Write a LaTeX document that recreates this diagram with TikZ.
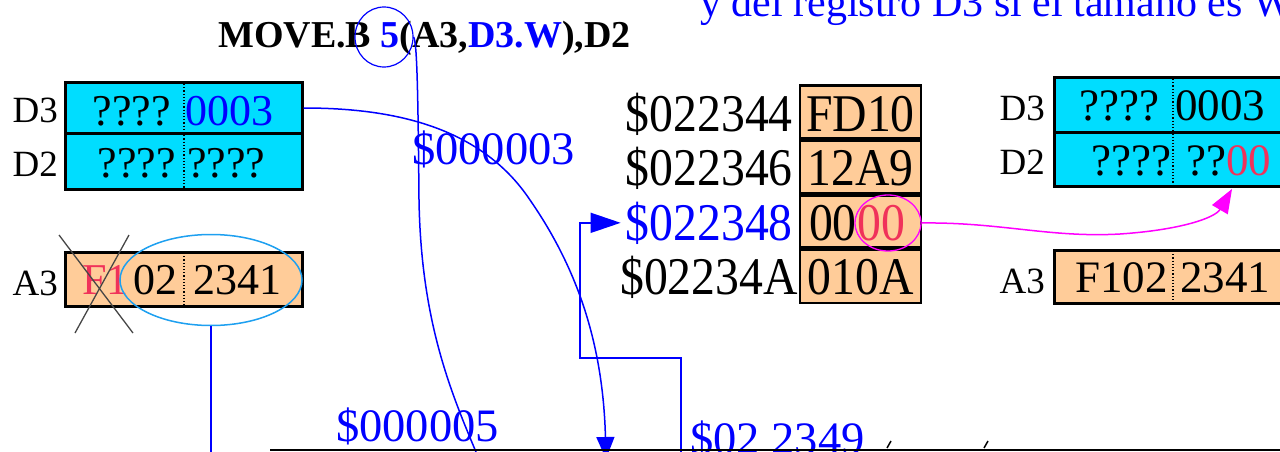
\documentclass[tikz,border=0pt]{standalone}
\usepackage{fontspec}
\setmainfont{Liberation Serif}
\newfontfamily\tallserif[FakeStretch=0.9]{Liberation Serif}
\usetikzlibrary{arrows.meta,shapes.geometric}
\definecolor{regcyan}{RGB}{0,221,255}
\definecolor{peach}{RGB}{255,204,153}
\definecolor{hot}{RGB}{240,50,90}
\definecolor{magen}{RGB}{255,0,255}
\definecolor{skyb}{RGB}{30,160,240}
\definecolor{bl}{RGB}{0,0,255}
\definecolor{xgray}{RGB}{70,70,70}
\begin{document}
\begin{tikzpicture}[x=1pt,y=-1pt,
  big/.style={inner sep=0pt, font=\fontsize{44}{44}\selectfont},
  bigr/.style={inner sep=0pt, font=\fontsize{45}{45}\selectfont},
  lbl/.style={inner sep=0pt, text=bl, anchor=base west, font=\fontsize{46.5}{46.5}\selectfont},
  mem/.style={inner sep=0pt, font=\tallserif\fontsize{53}{53}\selectfont},
  lab/.style={inner sep=0pt, anchor=base east, font=\fontsize{37}{37}\selectfont},
  regbox/.style={draw=black, line width=3pt, inner sep=0pt},
  cell/.style={draw=black, line width=1.6pt, fill=peach, inner sep=0pt, minimum width=121pt, minimum height=54pt},
  divline/.style={black, dotted, line width=1.2pt},
  conn/.style={bl, line width=1.5pt},
  mconn/.style={magen, line width=1.5pt},
]
\useasboundingbox (0,0) rectangle (1280,452);

% top (cut) text
\node[inner sep=0pt, anchor=base west, text=bl, font=\fontsize{42}{42}\selectfont] (toptxt) at (700,17) {y del registro D3 si el tamaño es W};

% title
\node[inner sep=0pt, anchor=base west, font=\bfseries\fontsize{38}{38}\selectfont] (title) at (218,48)
  {MOVE.B \textcolor{bl}{5}(A3,\textcolor{bl}{D3.W}),D2};
\node[draw=bl, line width=1.2pt, ellipse, minimum width=58pt, minimum height=60pt, inner sep=0pt] (c5) at (384,37) {};

% left registers
\node[regbox, fill=regcyan, minimum width=237pt, minimum height=50pt] (d3L) at (183.5,108) {};
\node[regbox, fill=regcyan, minimum width=237pt, minimum height=56pt] (d2L) at (183.5,161) {};
\draw[divline] (184,84) -- (184,188);
\node[lab] (ld3L) at (58,122) {D3};
\node[lab] (ld2L) at (58,176) {D2};
\node[big, anchor=base east] (q1) at (171,125) {????};
\node[big, anchor=base west, text=bl] (v1) at (185,125) {0003};
\node[big, anchor=base east] (q2) at (176,177) {????};
\node[big, anchor=base west] (q3) at (187,177) {????};

\node[regbox, fill=peach, minimum width=237pt, minimum height=54pt] (a3L) at (183.5,279) {};
\draw[divline] (184,253) -- (184,305);
\node[lab] (la3L) at (58,295) {A3};
\node[big, anchor=base west, text=hot] (f1) at (82,294) {F1};
\node[big, anchor=base east] (v02) at (178,294) {02};
\node[big, anchor=base west] (v2341) at (193,294) {2341};
\draw[xgray, line width=1.3pt] (59,235) -- (133,333);
\draw[xgray, line width=1.3pt] (129,235) -- (75,333);
\node[draw=skyb, line width=1.5pt, ellipse, minimum width=182pt, minimum height=91pt, inner sep=0pt] (ell) at (211,280) {};

% memory
\node[cell] (m1) at (860.5,113) {};
\node[cell] (m2) at (860.5,167) {};
\node[cell] (m3) at (860.5,222) {};
\node[cell] (m4) at (860.5,276) {};
\draw[black, line width=3pt] (m1.north west) -- (m1.north east);
\draw[black, line width=5pt] (m2.north west) -- (m2.north east);
\draw[black, line width=5pt] (m3.north west) -- (m3.north east);
\draw[black, line width=5pt] (m4.north west) -- (m4.north east);
\node[mem, anchor=base] (t1) at (860.5,131) {FD10};
\node[mem, anchor=base] (t2) at (860.5,185) {12A9};
\node[mem, anchor=base east] (t3a) at (857,240) {00};
\node[mem, anchor=base west, text=hot] (t3b) at (857,240) {00};
\node[mem, anchor=base] (t4) at (860.5,294) {010A};
\node[mem, anchor=base east] (a1) at (793,131) {\$022344};
\node[mem, anchor=base east] (a2) at (793,185) {\$022346};
\node[mem, anchor=base east, text=bl] (a3) at (793,240) {\$022348};
\node[mem, anchor=base east] (a4) at (798,294) {\$02234A};
\node[draw=magen, line width=1.3pt, ellipse, minimum width=66pt, minimum height=56pt, inner sep=0pt] (mc) at (888,223) {};

% right registers
\node[regbox, fill=regcyan, minimum width=238pt, minimum height=54pt] (d3R) at (1173,105) {};
\node[regbox, fill=regcyan, minimum width=238pt, minimum height=54pt] (d2R) at (1173,159) {};
\draw[divline] (1173,79) -- (1173,185);
\node[lab] (ld3R) at (1045,120) {D3};
\node[lab] (ld2R) at (1045,174) {D2};
\node[bigr, anchor=base east] (q4) at (1160,121) {????};
\node[bigr, anchor=base west] (v3) at (1175,121) {0003};
\node[bigr, anchor=base east] (q5) at (1172,175) {????};
\node[bigr, anchor=base west] (q6) at (1186,175) {??\textcolor{hot}{00}};
\node[regbox, fill=peach, minimum width=238pt, minimum height=53pt] (a3R) at (1173,276.5) {};
\draw[divline] (1173,251) -- (1173,302);
\node[lab] (la3R) at (1045,293) {A3};
\node[bigr, anchor=base east] (v4) at (1168,292) {F102};
\node[bigr, anchor=base west] (v5) at (1180,292) {2341};

% labels
\node[lbl] (lab3) at (412,164) {\$000003};
\node[lbl] (lab5) at (336,441) {\$000005};
\node[lbl] (lab2349) at (690,454) {\$02 2349};

% coordinates for free ends
\coordinate (e5) at (476,452);
\coordinate (eDown) at (606,459);
\coordinate (eRect) at (681,452);
\coordinate (eEll) at (211,452);
\coordinate (tipD2) at (1232,189);

% connectors
\draw[conn] (c5.east) .. controls (417,42) and (418,90) .. (419,200)
  .. controls (421,320) and (450,390) .. (e5);
\draw[conn, -{Triangle[length=22pt,width=18pt]}] (d3L.east) .. controls (390,108) and (480,125) .. (530,200)
  .. controls (575,265) and (603,340) .. (eDown);
\draw[conn, -{Triangle[length=30pt,width=20pt]}] (eRect) -- (681,358) -- (580,358) |- ([xshift=-5pt]a3.west);
\draw[conn, line width=2pt] (ell.south) -- (eEll);
\draw[mconn, -{Triangle[length=24pt,width=18pt]}] (mc.east) .. controls (1000,222) and (1050,238) .. (1120,234)
  .. controls (1180,230) and (1215,218) .. (tipD2);

% bottom edge line and accents
\draw[black, line width=2pt] (270,450) -- (1280,450);
\draw[black, line width=1.5pt] (887,448) -- (891,441);
\draw[black, line width=1.5pt] (984,448) -- (988,441);
\end{tikzpicture}
\end{document}
